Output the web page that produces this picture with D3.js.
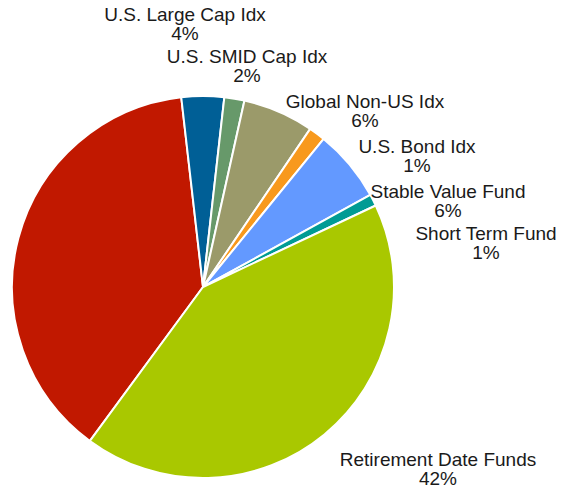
<!DOCTYPE html>
<html>
<head>
<meta charset="utf-8">
<script src="https://cdn.jsdelivr.net/npm/d3@7"></script>
<style>
  body { margin: 0; background: #fff; }
  svg { display: block; }
</style>
</head>
<body>
<svg id="pie"></svg>
<script>
// Data
const funds = [
  "Other",
  "U.S. Large Cap Idx",
  "U.S. SMID Cap Idx",
  "Global Non-US Idx",
  "U.S. Bond Idx",
  "Stable Value Fund",
  "Short Term Fund",
  "Retirement Date Funds"
];
const shares = [38.1, 3.6, 1.7, 6.0, 1.4, 6.1, 1.0, 42.1];
const colors = ["#c11800", "#005f96", "#67996a", "#9b9a6a", "#f8991d", "#6399ff", "#009b94", "#a9c800"];

// label centres (x, baseline of first line); null = not shown
const labelPos = [
  null,
  [185, 21],
  [247, 63],
  [365, 108],
  [417, 153],
  [448, 198],
  [486, 240],
  [438, 466]
];

let width = 577,
  height = 491;
let cx = 203,
  cy = 287,
  radius = 191;

let svg = d3.select("#pie").attr("width", width).attr("height", height);

let pie = d3
  .pie()
  .sort(null)
  .value((d) => d)
  .startAngle((216.3 * Math.PI) / 180)
  .endAngle((216.3 * Math.PI) / 180 + 2 * Math.PI);

let arc = d3.arc().innerRadius(0).outerRadius(radius);

let g = svg.append("g").attr("transform", `translate(${cx}, ${cy})`);

g.selectAll("path")
  .data(pie(shares))
  .enter()
  .append("path")
  .attr("d", arc)
  .attr("fill", (d, i) => colors[i])
  .attr("stroke", "#fff")
  .attr("stroke-width", 2)
  .attr("stroke-linejoin", "round");

let labels = svg
  .selectAll(".label")
  .data(funds.map((f, i) => i).filter((i) => labelPos[i]))
  .enter()
  .append("text")
  .attr("class", "label")
  .attr("x", (i) => labelPos[i][0])
  .attr("y", (i) => labelPos[i][1])
  .attr("text-anchor", "middle")
  .attr("font-family", "Liberation Sans, Arial")
  .attr("font-size", "19px")
  .attr("fill", "#1a1a1a");

labels
  .append("tspan")
  .attr("x", (i) => labelPos[i][0])
  .text((i) => funds[i]);

labels
  .append("tspan")
  .attr("x", (i) => labelPos[i][0])
  .attr("dy", 18.5)
  .text((i) => `${Math.round(shares[i])}%`);
</script>
</body>
</html>
